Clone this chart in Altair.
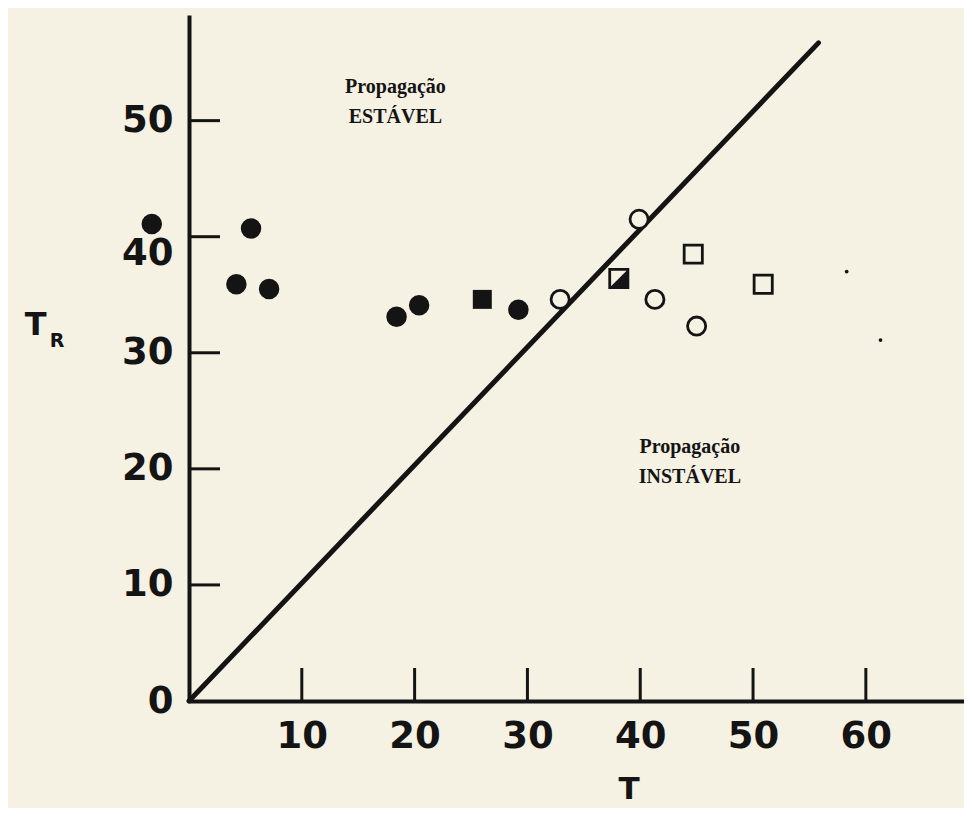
import altair as alt
import pandas as pd

BG = "#f5f1e3"
INK = "#141414"

# ---- data ----
filled_circle_T = [-3.3, 5.5, 4.2, 7.1, 18.4, 20.4, 29.2]
filled_circle_TR = [41.1, 40.7, 35.9, 35.5, 33.1, 34.1, 33.7]

filled_square_T = [26.0]
filled_square_TR = [34.6]

open_circle_T = [32.9, 39.9, 41.3, 45.0]
open_circle_TR = [34.6, 41.5, 34.6, 32.3]

open_square_T = [44.7, 50.9]
open_square_TR = [38.5, 35.9]

half_square_T = [38.1]
half_square_TR = [36.4]

speck_T = [58.3, 61.3]
speck_TR = [37.0, 31.1]

line_T = [0.0, 55.8]
line_TR = [0.0, 56.7]

x_ticks = [10, 20, 30, 40, 50, 60]
y_ticks = [10, 20, 30, 40, 50]
y_labels = [0, 10, 20, 30, 40, 50]

region_text = ["Propagação", "ESTÁVEL", "Propagação", "INSTÁVEL"]
region_T = [18.3, 18.3, 44.4, 44.4]
region_TR = [52.9, 50.3, 21.9, 19.3]

X_DOMAIN = [0, 68.7]
Y_DOMAIN = [0, 59.1]

W, H = 775, 686

xs = alt.Scale(domain=X_DOMAIN, nice=False, zero=False)
ys = alt.Scale(domain=Y_DOMAIN, nice=False, zero=False)

x_axis = alt.Axis(
    values=x_ticks, ticks=False, grid=False, title=None,
    domainColor=INK, domainWidth=4, labelColor=INK,
    labelFont="DejaVu Sans", labelFontWeight="bold", labelFontSize=37,
    labelPadding=17, labelFlush=False)
y_axis = alt.Axis(
    values=y_labels, ticks=False, grid=False, title=None,
    domainColor=INK, domainWidth=4, labelColor=INK,
    labelFont="DejaVu Sans", labelFontWeight="bold", labelFontSize=37,
    labelPadding=16, labelFlush=False,
    labelOffset=alt.condition("datum.value == 40", alt.value(17), alt.value(0)))


def pts(t, tr):
    return pd.DataFrame({"T": t, "TR": tr})


def X():
    return alt.X("T:Q", scale=xs, axis=x_axis)


def Y():
    return alt.Y("TR:Q", scale=ys, axis=y_axis)


diag = alt.Chart(pd.DataFrame({"T": [line_T[0]], "TR": [line_TR[0]],
                               "T2": [line_T[1]], "TR2": [line_TR[1]]})).mark_rule(
    color=INK, strokeWidth=5, strokeCap="round").encode(
    x=X(), y=Y(), x2="T2:Q", y2="TR2:Q")

xtick = alt.Chart(pd.DataFrame({"T": x_ticks})).mark_rule(color=INK, strokeWidth=3).encode(
    x=X(), y=alt.value(H), y2=alt.value(H - 33))

ytick = alt.Chart(pd.DataFrame({"TR": y_ticks})).mark_rule(color=INK, strokeWidth=3).encode(
    y=Y(), x=alt.value(0), x2=alt.value(31))

fc = alt.Chart(pts(filled_circle_T, filled_circle_TR)).mark_point(
    shape="circle", filled=True, color=INK, size=420, opacity=1).encode(x=X(), y=Y())

fs = alt.Chart(pts(filled_square_T, filled_square_TR)).mark_point(
    shape="square", filled=True, color=INK, size=360, opacity=1).encode(x=X(), y=Y())

oc = alt.Chart(pts(open_circle_T, open_circle_TR)).mark_point(
    shape="circle", filled=True, fill=BG, stroke=INK, strokeWidth=2.8,
    size=330, opacity=1, fillOpacity=1).encode(x=X(), y=Y())

os_ = alt.Chart(pts(open_square_T, open_square_TR)).mark_point(
    shape="square", filled=True, fill=BG, stroke=INK, strokeWidth=2.8,
    size=330, opacity=1, fillOpacity=1).encode(x=X(), y=Y())

hs_box = alt.Chart(pts(half_square_T, half_square_TR)).mark_point(
    shape="square", filled=True, fill=BG, stroke=INK, strokeWidth=2.8,
    size=330, opacity=1, fillOpacity=1).encode(x=X(), y=Y())

hs_fill = alt.Chart(pts(half_square_T, half_square_TR)).mark_point(
    shape="M1,-1L1,1L-1,1Z", filled=True, color=INK, size=330, opacity=1).encode(x=X(), y=Y())

speck = alt.Chart(pts(speck_T, speck_TR)).mark_point(
    shape="circle", filled=True, color=INK, size=14, opacity=1).encode(x=X(), y=Y())

regions = alt.Chart(pd.DataFrame({"T": region_T, "TR": region_TR, "txt": region_text})).mark_text(
    font="Liberation Serif", fontWeight="bold", fontSize=20, color=INK,
    align="center", baseline="middle").encode(x=X(), y=Y(), text="txt:N")

titles = pd.DataFrame({
    "T": [-13.6, -11.7, 39.0],
    "TR": [32.4, 31.0, -7.7],
    "txt": ["T", "R", "T"],
    "sz": [32, 19, 31],
})
title_marks = alt.Chart(titles).mark_text(
    font="DejaVu Sans", fontWeight="bold", color=INK,
    align="center", baseline="middle").encode(
    x=X(), y=Y(), text="txt:N", size=alt.Size("sz:Q", scale=None, legend=None))

chart = alt.layer(
    diag, xtick, ytick, fc, fs, oc, os_, hs_box, hs_fill, speck, regions, title_marks
).properties(
    width=W, height=H,
    autosize=alt.AutoSizeParams(type="none"),
    padding={"left": 181, "top": 7, "right": 0, "bottom": 107},
    background=BG,
).configure_view(stroke=None)

chart.save("out.html", embed_options={"renderer": "svg", "actions": False})
